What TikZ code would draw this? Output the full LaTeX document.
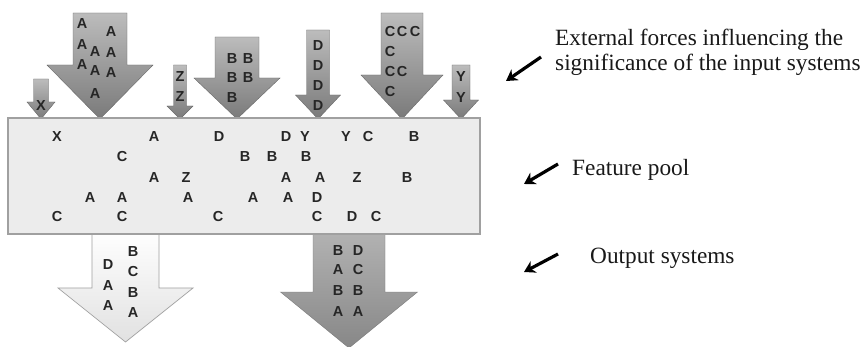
\documentclass[tikz,border=0pt]{standalone}
\usepackage{fontspec}
\setmainfont{Liberation Serif}
\newfontfamily\letfont[BoldFont={Liberation Sans Bold}]{Liberation Sans}
\usetikzlibrary{arrows.meta}
\definecolor{arrtop}{HTML}{BCBCBC}
\definecolor{arrbot}{HTML}{7A7A7A}
\definecolor{poolfill}{HTML}{ECECEC}
\definecolor{poolline}{HTML}{A0A0A0}
\definecolor{lettercol}{HTML}{262626}
\newcommand\dnarrow[7]{\path[#1] (#2-#3,#4) -- (#2+#3,#4) -- (#2+#3,#6) -- (#2+#5,#6) -- (#2,#7) -- (#2-#5,#6) -- (#2-#3,#6) -- cycle;}
\begin{document}
\begin{tikzpicture}[x=1pt,y=-1pt,
 inarrow/.style={top color=arrtop,bottom color=arrbot,draw=arrbot!85!black,line width=0.4pt},
 outlight/.style={top color=white,bottom color=poolfill!90!gray,draw=poolline,line width=0.7pt},
 outdark/.style={top color=arrtop!85!gray,bottom color=arrbot!90!white,draw=arrbot,line width=0.4pt},
 pool/.style={draw=poolline,fill=poolfill,line width=1.3pt},
 feat/.style={font=\letfont\bfseries\fontsize{14.5}{14.5}\selectfont,text=lettercol,inner sep=0pt},
 sidetext/.style={font=\fontsize{23.3}{25}\selectfont,align=left,anchor=west,inner sep=0pt,text=black!90},
 pointer/.style={line width=3.2pt,-{Stealth[length=11pt,width=13pt]}}
]
\fill[white] (0,0) rectangle (867,347);
\useasboundingbox (0,0) rectangle (867,347);
% input arrows: style, cx, half shaft, top, half head, head start, tip
\dnarrow{inarrow}{41}{7.5}{79}{14}{102}{119}
\dnarrow{inarrow}{100}{27}{13}{53}{65}{119}
\dnarrow{inarrow}{180}{6.5}{65}{13}{106}{119}
\dnarrow{inarrow}{237}{22}{37}{43}{78}{119}
\dnarrow{inarrow}{318}{11.5}{30}{22.5}{95}{119}
\dnarrow{inarrow}{402}{21}{13}{41}{75}{119}
\dnarrow{inarrow}{461}{9}{65}{17.5}{100}{119}
% output arrows
\dnarrow{outlight}{125.5}{33.5}{230}{67.5}{288}{342}
\dnarrow{outdark}{349}{36}{230}{68.5}{292}{348}
% feature pool
\path[pool] (8,118) rectangle (480,234);
% letters in input arrows
\foreach \x/\y/\t [count=\i] in {41/106/X,
 82/24/A,82/45/A,82/65/A,95/52/A,95/71/A,95/94/A,111/32/A,111/53/A,111/73/A,
 180/77/Z,180/97/Z,
 232/59/B,232/78/B,232/98/B,248/59/B,248/78/B,
 318/46/D,318/66/D,318/86/D,318/106/D,
 390/32/C,402/32/C,415/32/C,390/52/C,390/72/C,402/72/C,390/92/C,
 461/77/Y,461/98/Y}
 \node[feat] (in\i) at (\x,\y) {\t};
% letters in feature pool
\foreach \x/\y/\t [count=\i] in {57/137/X,154/137/A,219/137/D,286/137/D,305/137/Y,346/137/Y,368/137/C,414/137/B,
 122/157/C,245/157/B,272/157/B,306/157/B,
 154/178/A,186/178/Z,286/178/A,320/178/A,357/178/Z,407/178/B,
 90/198/A,122/198/A,188/198/A,253/198/A,288/198/A,317/198/D,
 57/217/C,122/217/C,218/217/C,317/217/C,352/217/D,376/217/C}
 \node[feat] (fp\i) at (\x,\y) {\t};
% letters in output arrows
\foreach \x/\y/\t [count=\i] in {108/265/D,108/286/A,108/306/A,133/252/B,133/272/C,133/293/B,133/313/A,
 338/251/B,338/270/A,338/291/B,338/312/A,358/251/D,358/270/C,358/291/B,358/312/A}
 \node[feat] (out\i) at (\x,\y) {\t};
% side labels
\node[sidetext] (ext) at (555,52) {External forces influencing the\\significance of the input systems};
\node[sidetext] (fpl) at (572,170) {Feature pool};
\node[sidetext] (osy) at (590,258) {Output systems};
\coordinate (p1s) at (541,57); \coordinate (p1e) at (506,81);
\coordinate (p2s) at (558,164); \coordinate (p2e) at (524,184);
\coordinate (p3s) at (558,254); \coordinate (p3e) at (524,272);
\draw[pointer] (p1s) -- (p1e);
\draw[pointer] (p2s) -- (p2e);
\draw[pointer] (p3s) -- (p3e);
\end{tikzpicture}
\end{document}
